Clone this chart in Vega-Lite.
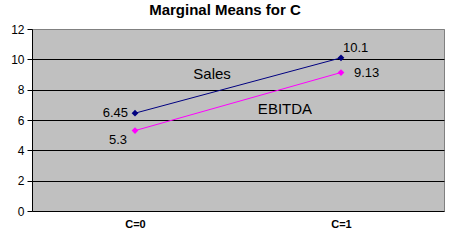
{
  "$schema": "https://vega.github.io/schema/vega-lite/v6.json",
  "autosize": "none",
  "width": 412,
  "height": 182,
  "padding": {"left": 32, "top": 29, "right": 10, "bottom": 30},
  "background": "white",
  "title": {"text": "Marginal Means for C", "font": "Liberation Sans", "fontSize": 15, "fontWeight": "bold", "color": "black", "offset": 5, "dx": -13},
  "config": {
    "view": {"fill": "#C0C0C0", "stroke": "#808080", "strokeWidth": 1},
    "font": "Liberation Sans"
  },
  "datasets": {
    "means": [
      {"C": 0, "series": "Sales", "value": 6.45, "label": "6.45"},
      {"C": 1, "series": "Sales", "value": 10.1, "label": "10.1"},
      {"C": 0, "series": "EBITDA", "value": 5.3, "label": "5.3"},
      {"C": 1, "series": "EBITDA", "value": 9.13, "label": "9.13"}
    ],
    "notes": [
      {"C": 0.374, "value": 9.05, "label": "Sales"},
      {"C": 0.728, "value": 6.7, "label": "EBITDA"}
    ]
  },
  "encoding": {
    "x": {"field": "C", "type": "quantitative", "scale": {"domain": [-0.5, 1.5], "nice": false, "zero": false},
      "axis": {"values": [0, 1], "labelExpr": "'C=' + datum.value", "title": null, "grid": false, "ticks": false, "domain": false, "labelFont": "Liberation Sans", "labelFontWeight": "bold", "labelFontSize": 11, "labelColor": "black", "labelPadding": 7}},
    "y": {"field": "value", "type": "quantitative", "scale": {"domain": [0, 12], "nice": false},
      "axis": {"values": [0, 2, 4, 6, 8, 10, 12], "labelOverlap": false, "title": null, "grid": true, "gridColor": {"condition": {"test": "datum.value == 12", "value": "#808080"}, "value": "black"}, "gridOpacity": 1, "gridWidth": 1, "domainColor": "black", "tickColor": "black", "tickSize": 5, "labelPadding": 3, "labelFontSize": 12, "labelColor": "black", "labelFont": "Liberation Sans"}}
  },
  "layer": [
    {
      "data": {"name": "means"},
      "mark": {"type": "line", "strokeWidth": 1},
      "encoding": {
        "color": {"field": "series", "type": "nominal", "scale": {"domain": ["Sales", "EBITDA"], "range": ["#000080", "#FF00FF"]}, "legend": null}
      }
    },
    {
      "data": {"name": "means"},
      "mark": {"type": "point", "shape": "diamond", "filled": true, "size": 45, "opacity": 1},
      "encoding": {
        "color": {"field": "series", "type": "nominal", "legend": null}
      }
    },
    {
      "data": {"name": "means"},
      "transform": [{"filter": "datum.label == '6.45'"}],
      "mark": {"type": "text", "align": "right", "baseline": "middle", "dx": -7, "fontSize": 13, "color": "black"},
      "encoding": {"text": {"field": "label"}}
    },
    {
      "data": {"name": "means"},
      "transform": [{"filter": "datum.label == '5.3'"}],
      "mark": {"type": "text", "align": "right", "baseline": "middle", "dx": -8, "dy": 9, "fontSize": 13, "color": "black"},
      "encoding": {"text": {"field": "label"}}
    },
    {
      "data": {"name": "means"},
      "transform": [{"filter": "datum.label == '10.1'"}],
      "mark": {"type": "text", "align": "left", "baseline": "middle", "dx": 2, "dy": -10, "fontSize": 13, "color": "black"},
      "encoding": {"text": {"field": "label"}}
    },
    {
      "data": {"name": "means"},
      "transform": [{"filter": "datum.label == '9.13'"}],
      "mark": {"type": "text", "align": "left", "baseline": "middle", "dx": 13, "fontSize": 13, "color": "black"},
      "encoding": {"text": {"field": "label"}}
    },
    {
      "data": {"name": "notes"},
      "mark": {"type": "text", "align": "center", "baseline": "middle", "fontSize": 15, "color": "black"},
      "encoding": {"text": {"field": "label"}}
    }
  ]
}
